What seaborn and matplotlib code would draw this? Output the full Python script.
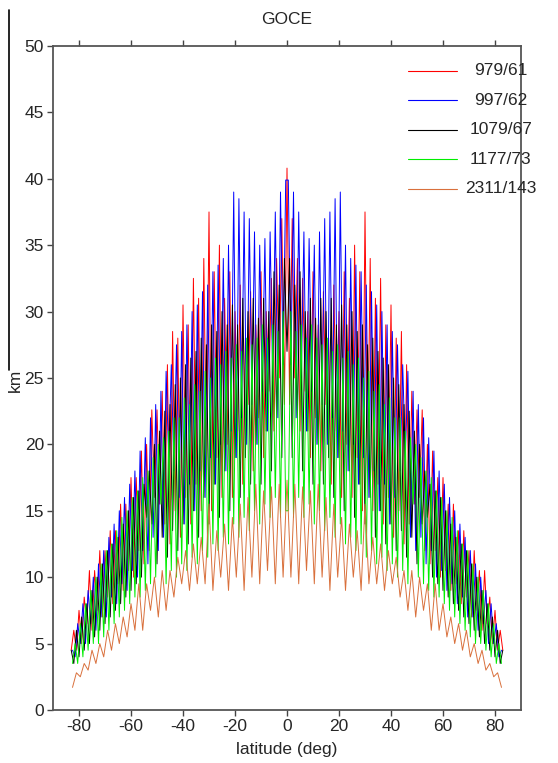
import numpy as np
import pandas as pd
import matplotlib
matplotlib.use("Agg")
import matplotlib.pyplot as plt
from matplotlib.lines import Line2D
import seaborn as sns

# Orbit configurations (revolutions / days) and their line colours
configs = ["979/61", "997/62", "1079/67", "1177/73", "2311/143"]
colors = ["#ff0000", "#0000ff", "#000000", "#00ee00", "#d9703c"]

# Latitudes (deg) of the northern half; profiles are symmetric about the equator
lat_979_61 = np.arange(0.0, 83.5, 1.0)
lat_997_62 = np.arange(0.5, 83.0, 1.0)
lat_1079_67 = np.arange(0.0, 83.5, 1.0)
lat_1177_73 = np.arange(0.5, 83.0, 1.0)
lat_2311_143 = np.arange(0.0, 83.0, 1.5)

# Maximum ground-track gap (km) for each configuration, equator -> pole
gap_979_61 = [40.8, 23, 37, 25, 34, 21, 32.5, 24, 30, 19, 33, 22, 29, 18, 31.5, 23,
              28, 17, 32, 21, 30, 16, 33, 20, 31, 16, 35, 19, 33, 15, 37.5, 18,
              34, 15, 31, 17, 32.5, 14, 29, 16, 30.5, 13, 28, 15, 28.5, 12.5, 26, 14,
              24, 15.5, 22.6, 16, 22.6, 12, 20, 11, 19.5, 12, 17.5, 10, 17.5, 10.5,
              15.5, 9, 15.5, 9.5, 13.5, 8, 13.5, 8.5, 12, 7, 12, 7.5, 10.5, 6,
              10.5, 6.5, 8.5, 5, 7.5, 4.5, 6, 4.5]
gap_997_62 = [39.9, 26, 39, 22, 37.5, 25, 36, 21, 35.5, 24, 35, 20, 36, 23, 37, 20,
              37.5, 22, 38.5, 19, 39, 21, 35, 18, 34, 20, 33.5, 17, 33, 19, 32, 16,
              31.5, 18, 30.5, 15, 30, 17, 29, 14, 28.5, 16, 27.5, 18, 26, 19, 25.5, 13,
              24, 12, 23, 13, 22, 11, 20.5, 12, 19.5, 10, 18, 10.5, 17, 9,
              16, 9.5, 15, 8, 14, 8.5, 13, 7, 12, 7, 11, 6, 10, 6.5,
              9, 5, 8, 5, 6.5, 4, 4.5]
gap_1079_67 = [27, 34, 19, 32, 22, 33, 18, 30, 21, 31, 17, 29.5, 20, 31, 17, 30,
               19, 31, 16, 29, 19, 30.5, 15, 29, 18, 30, 14.5, 28.5, 17, 29, 14, 27.5,
               16, 28, 13, 27, 15, 26.5, 12.5, 26, 14, 25, 12, 24.5, 13.5, 23, 11.5, 22.5,
               13, 21, 11, 20, 14, 18, 14.5, 17, 10, 16.5, 9.5, 16, 9, 15,
               8.5, 14, 8, 13, 7.5, 12.5, 7, 12, 6.5, 11, 6, 10, 5.5, 9,
               5, 8, 4.5, 7, 4, 6, 3.5, 4.5]
gap_1177_73 = [15, 30, 14.5, 28.5, 16, 29, 14.5, 28, 15.5, 29, 14, 28, 15, 27.5, 13.5, 28,
               14.5, 27, 13, 27.5, 14, 26.5, 12.5, 27, 13, 26, 12, 26.5, 12.5, 25, 11.5, 25.5,
               12, 24, 11, 24.5, 11.5, 23, 10.5, 23.5, 11, 22, 10, 22, 10.5, 21, 9.5, 20.5,
               15.5, 20, 10, 19, 9.5, 18, 9, 17.5, 8.5, 16.5, 8.5, 16, 8, 15,
               7.5, 14.5, 7, 13.5, 6.5, 12.5, 6, 12, 5.5, 11, 5, 10, 5, 9,
               4.5, 8, 4, 6.5, 3.5, 5, 3.5]
gap_2311_143 = [17.3, 10, 17, 9.5, 16.8, 10.5, 16.5, 9.5, 17, 10, 16, 9, 15.5, 10,
                14.5, 9, 14, 10, 13.5, 9, 15.5, 9.5, 13, 9.5, 12.5, 9, 12, 9.5,
                11.5, 8.5, 10.5, 7.5, 10.5, 7, 10, 7.5, 9.5, 6, 9.5, 6, 8, 5.5,
                7, 5, 6.5, 4.5, 6, 4, 5, 3.5, 4.5, 3, 3.5, 2.5, 2.8, 1.7]

half_lats = [lat_979_61, lat_997_62, lat_1079_67, lat_1177_73, lat_2311_143]
half_gaps = [gap_979_61, gap_997_62, gap_1079_67, gap_1177_73, gap_2311_143]


def mirrored(lat, val):
    """Extend a northern-hemisphere profile to the south by symmetry."""
    lat = np.asarray(lat, float)
    val = np.asarray(val, float)
    start = 1 if lat[0] == 0 else 0
    return (np.concatenate([-lat[start:][::-1], lat]),
            np.concatenate([val[start:][::-1], val]))


frames = []
for name, lat, gap in zip(configs, half_lats, half_gaps):
    x, y = mirrored(lat, gap)
    frames.append(pd.DataFrame({"latitude": x, "km": y, "config": name}))
df = pd.concat(frames, ignore_index=True)

sns.set_theme(style="white")
plt.rcParams["font.family"] = ["Liberation Sans", "DejaVu Sans"]
plt.rcParams["axes.unicode_minus"] = False

fig = plt.figure(figsize=(5.58, 7.63), dpi=100)
ax = fig.add_axes([0.095, 0.0695, 0.8387, 0.8703])

sns.lineplot(data=df, x="latitude", y="km", hue="config", hue_order=configs,
             palette=colors, sort=False, estimator=None, linewidth=0.7,
             legend=False, ax=ax)

ax.set_xlim(-90, 90)
ax.set_ylim(0, 50)
ax.set_xticks(np.arange(-80, 81, 20))
ax.set_yticks(np.arange(0, 51, 5))
ax.tick_params(axis="both", which="both", direction="out", length=4.5,
               width=1.0, color="#444444", labelsize=12.5, pad=2,
               top=True, labeltop=False, bottom=True, left=True)
for side in ["left", "bottom", "top", "right"]:
    ax.spines[side].set_color("#555555")
    ax.spines[side].set_linewidth(1.3)

ax.set_xlabel("latitude (deg)", fontsize=12.5, labelpad=6)
ax.set_ylabel("")
ax.set_title("GOCE", fontsize=12.5, pad=16)

# y-axis caption with its leader line along the left edge
fig.text(0.027, 0.501, "km", rotation=90, ha="center", va="center", fontsize=12.5)
fig.add_artist(Line2D([0.0161, 0.0161], [0.987, 0.515], color="black",
                      linewidth=1.2, transform=fig.transFigure))

# Legend: short line sample followed by a centred label
for i, (name, col) in enumerate(zip(configs, colors)):
    yk = 0.9623 - i * 0.0444
    ax.add_line(Line2D([0.7585, 0.863], [yk, yk], color=col, linewidth=0.8,
                       transform=ax.transAxes))
    ax.text(0.957, yk, name, ha="center", va="center", fontsize=12.5,
            transform=ax.transAxes)

fig.savefig("out.png", dpi=100)
